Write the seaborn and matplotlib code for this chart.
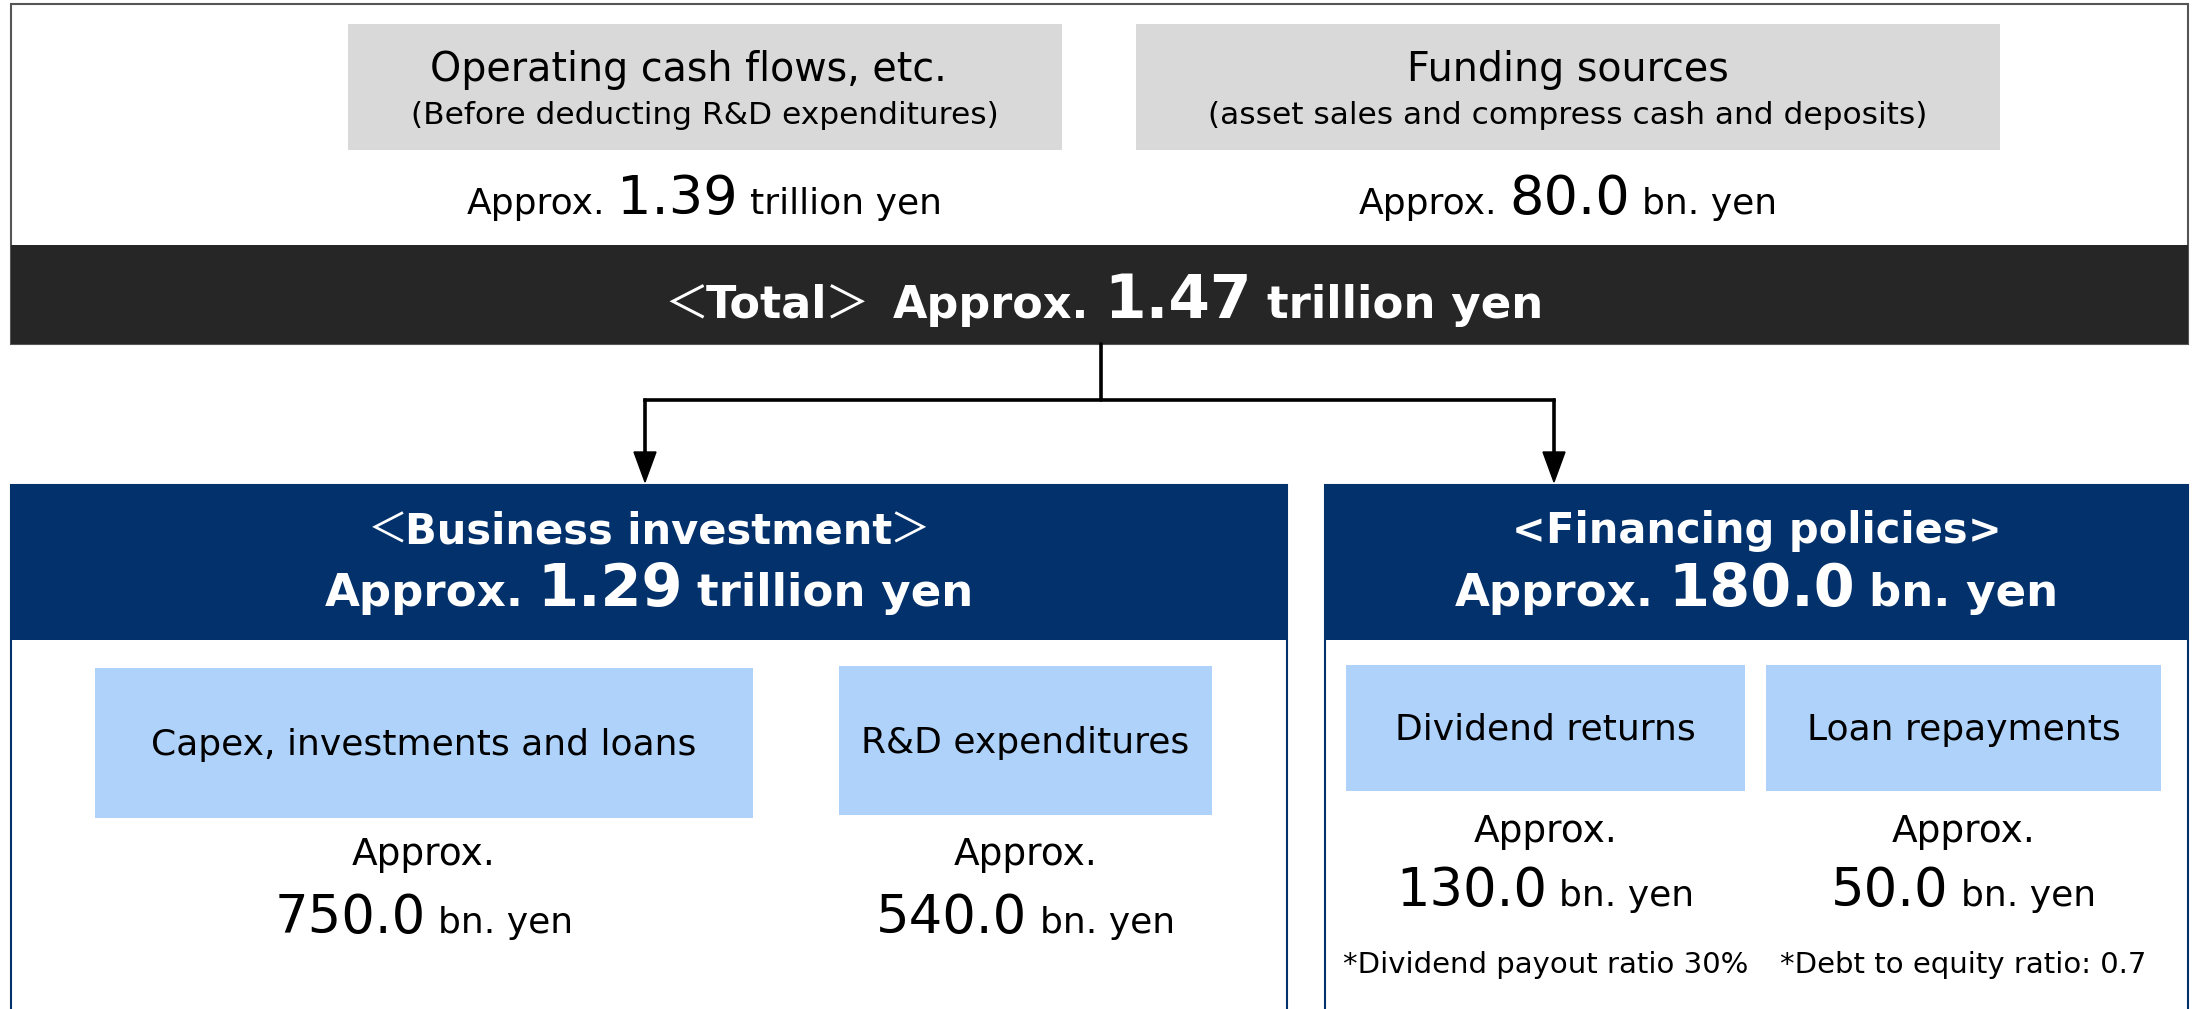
import matplotlib
matplotlib.use("Agg")
import matplotlib.pyplot as plt
from matplotlib.patches import Rectangle, Polygon
import seaborn as sns

sns.set_theme(style="white")
plt.rcParams['font.family'] = ['DejaVu Sans', 'Noto Sans CJK JP']
plt.rcParams['text.color'] = 'black'

# ---- data ----
source_labels = ["Operating cash flows, etc.", "Funding sources"]
source_notes = ["(Before deducting R&D expenditures)", "(asset sales and compress cash and deposits)"]
source_values = ["1.39", "80.0"]
source_units = ["trillion yen", "bn. yen"]

total_label = "Total"
total_value = "1.47"
total_unit = "trillion yen"

use_labels = ["Business investment", "Financing policies"]
use_brackets = [("＜", "＞"), ("<", ">")]
use_values = ["1.29", "180.0"]
use_units = ["trillion yen", "bn. yen"]

item_labels = ["Capex, investments and loans", "R&D expenditures", "Dividend returns", "Loan repayments"]
item_values = ["750.0", "540.0", "130.0", "50.0"]
item_units = ["bn. yen", "bn. yen", "bn. yen", "bn. yen"]
item_notes = ["", "", "*Dividend payout ratio 30%", "*Debt to equity ratio: 0.7"]

# ---- colours ----
DARK = "#262626"
GREY = "#D9D9D9"
NAVY = "#03316C"
LIGHT = "#AED2FA"

W, H = 2199, 1009
fig = plt.figure(figsize=(W / 100, H / 100), dpi=100)
ax = fig.add_axes([0, 0, 1, 1])
ax.set_xlim(0, W)
ax.set_ylim(H, 0)
ax.axis('off')
renderer = fig.canvas.get_renderer()


def box(x0, y0, x1, y1, fc, ec='none', lw=0, z=1):
    ax.add_patch(Rectangle((x0, y0), x1 - x0, y1 - y0, facecolor=fc, edgecolor=ec, linewidth=lw, zorder=z))


def mixed_line(xc, y, parts, color='black'):
    # parts: (text, size, weight, gap before in px); one baseline, centred on xc
    texts, widths = [], []
    for s, size, weight, gap in parts:
        t = ax.text(0, y, s, fontsize=size, fontweight=weight, color=color,
                    ha='left', va='baseline', zorder=5)
        texts.append(t)
        widths.append(t.get_window_extent(renderer).width)
    gaps = [p[3] for p in parts]
    total = sum(widths) + sum(gaps[1:])
    x = xc - total / 2
    for i, (t, w) in enumerate(zip(texts, widths)):
        if i:
            x += gaps[i]
        t.set_x(x)
        x += w


# ---- top sources panel ----
box(11, 4, 2188, 344, 'white', ec='#555555', lw=1.5)
source_boxes = [(348, 1062), (1136, 2000)]
label_centres = [688, 1568]
value_centres = [704, 1568]
for i, (x0, x1) in enumerate(source_boxes):
    box(x0, 24, x1, 150, GREY, z=2)
    xc = (x0 + x1) / 2
    ax.text(label_centres[i], 70, source_labels[i], fontsize=28.5, ha='center', va='center', zorder=5)
    ax.text(xc, 115, source_notes[i], fontsize=22.5, ha='center', va='center', zorder=5)
    mixed_line(value_centres[i], 214, [("Approx.", 26, 'normal', 0),
                                       (source_values[i], 39, 'normal', 12),
                                       (source_units[i], 26, 'normal', 12)])

box(11, 245, 2188, 344, DARK, z=3)
mixed_line(1104, 318, [("＜", 32, 'normal', 0), (total_label, 32, 'bold', -3),
                       ("＞", 32, 'normal', -3), ("Approx.", 32, 'bold', 24),
                       (total_value, 43, 'bold', 15), (total_unit, 32.5, 'bold', 15)],
           color='white')

# ---- connector arrows ----
ax.plot([1101, 1101], [344, 400], color='black', lw=2.6, zorder=4)
ax.plot([645, 1554], [400, 400], color='black', lw=2.6, zorder=4, solid_capstyle='projecting')
for xa in (645, 1554):
    ax.plot([xa, xa], [400, 462], color='black', lw=2.6, zorder=4)
    ax.add_patch(Polygon([[xa - 11, 452], [xa + 11, 452], [xa, 482]], closed=True,
                         facecolor='black', edgecolor='black', zorder=4))

# ---- use panels ----
panels = [(11, 1287), (1325, 2188)]
for i, (x0, x1) in enumerate(panels):
    box(x0, 485, x1, 1030, 'white', ec=NAVY, lw=1.5)
    box(x0, 485, x1, 640, NAVY, z=2)
    xc = (x0 + x1) / 2
    lb, rb = use_brackets[i]
    bw = 'normal' if lb == "＜" else 'bold'
    bg = -3 if lb == "＜" else 0
    mixed_line(xc, 543, [(lb, 29, bw, 0), (use_labels[i], 30, 'bold', bg),
                         (rb, 29, bw, bg)], color='white')
    mixed_line(xc, 606, [("Approx.", 32.5, 'bold', 0), (use_values[i], 42.5, 'bold', 14),
                         (use_units[i], 32.5, 'bold', 14)], color='white')

item_boxes = [(95, 753, 668, 818), (839, 1212, 666, 815),
              (1346, 1745, 665, 791), (1766, 2161, 665, 791)]
approx_y = [855, 855, 832, 832]
value_y = [933, 933, 906, 906]
for i, (x0, x1, y0, y1) in enumerate(item_boxes):
    box(x0, y0, x1, y1, LIGHT, z=2)
    xc = (x0 + x1) / 2
    ax.text(xc, (y0 + y1) / 2 + 2, item_labels[i], fontsize=26, ha='center', va='center', zorder=5)
    ax.text(xc, approx_y[i], "Approx.", fontsize=27, ha='center', va='center', zorder=5)
    mixed_line(xc, value_y[i], [(item_values[i], 38, 'normal', 0), (item_units[i], 26, 'normal', 12)])
    if item_notes[i]:
        ax.text(xc, 965, item_notes[i], fontsize=21, ha='center', va='center', zorder=5)

fig.savefig("out.png", dpi=100)
